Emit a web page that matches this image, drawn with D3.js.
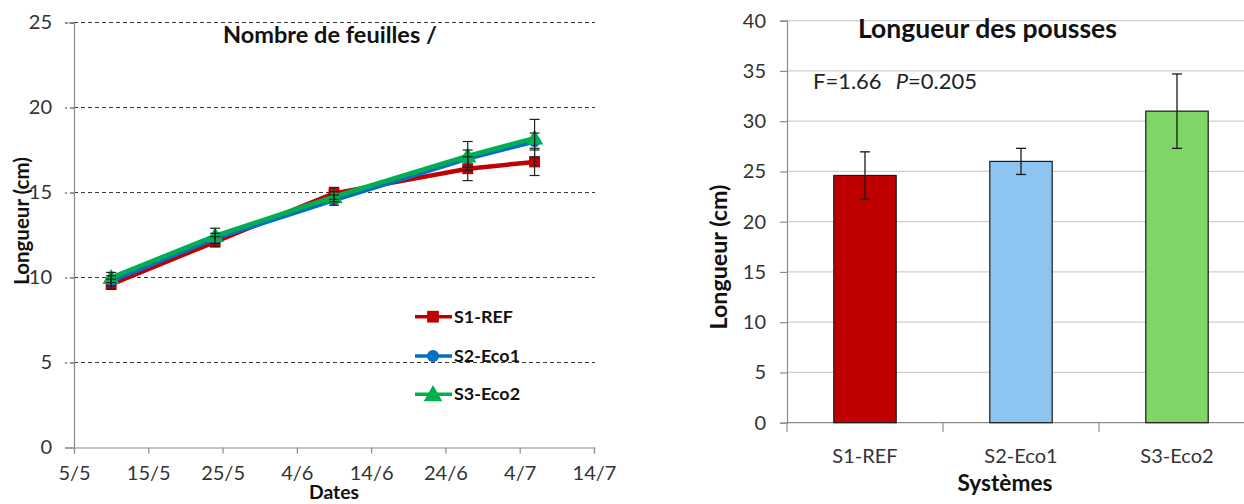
<!DOCTYPE html>
<html>
<head>
<meta charset="utf-8">
<script src="https://cdn.jsdelivr.net/npm/d3@7"></script>
<style>
  html, body { margin: 0; padding: 0; background: #fff; }
  svg { display: block; font-family: "Lato", "Open Sans", sans-serif; }
</style>
</head>
<body>
<svg id="chart" width="1244" height="504"></svg>
<script>
// ---- Left panel: leaf count / length over time ----
const sampleDates = ["2014-05-10", "2014-05-24", "2014-06-09", "2014-06-27", "2014-07-06"];
const dateTicks = ["2014-05-05", "2014-05-15", "2014-05-25", "2014-06-04", "2014-06-14", "2014-06-24", "2014-07-04", "2014-07-14"];
const lengthTicks = [0, 5, 10, 15, 20, 25];
const seriesNames = ["S1-REF", "S2-Eco1", "S3-Eco2"];
const s1Values = [9.6, 12.1, 14.95, 16.4, 16.8];
const s2Values = [9.8, 12.3, 14.55, 17.0, 18.0];
const s3Values = [10.0, 12.45, 14.75, 17.15, 18.2];
const s1Err = [0.3, 0.3, 0.35, 0.7, 0.8];
const s2Err = [0.3, 0.3, 0.3, 0.5, 0.5];
const s3Err = [0.3, 0.45, 0.3, 0.85, 1.1];
const seriesColors = ["#C00000", "#0070C0", "#00B050"];
const seriesMarkers = [d3.symbolSquare, d3.symbolCircle, d3.symbolTriangle];

// ---- Right panel: shoot length per system ----
const systems = ["S1-REF", "S2-Eco1", "S3-Eco2"];
const shootLength = [24.6, 26.0, 31.0];
const shootErr = [2.35, 1.3, 3.7];
const barColors = ["#C00000", "#8EC4F0", "#7FD666"];
const barTicks = [0, 5, 10, 15, 20, 25, 30, 35, 40];

const parse = d3.timeParse("%Y-%m-%d");
const fmtTick = d3.timeFormat("%-d/%-m");
const svg = d3.select("#chart");

// scale a text's font size so it spans the given width
function fitWidth(sel, width) {
  const node = sel.node();
  const base = parseFloat(sel.attr("font-size"));
  const len = node.getComputedTextLength();
  if (len > 0) sel.attr("font-size", (base * width / len).toFixed(2));
  return sel;
}

// ================= Left chart =================
const L = { x0: 74, x1: 594, y0: 447.5, y1: 22.5 };
const xT = d3.scaleTime().domain([parse(dateTicks[0]), parse(dateTicks[dateTicks.length - 1])]).range([L.x0, L.x1]);
const yL = d3.scaleLinear().domain([0, 25]).range([L.y0, L.y1]);

const gl = svg.append("g");

// dashed horizontal gridlines
gl.append("g").selectAll("line").data(lengthTicks.filter(d => d > 0)).join("line")
  .attr("x1", L.x0).attr("x2", L.x1 + 1)
  .attr("y1", d => yL(d)).attr("y2", d => yL(d))
  .attr("stroke", "#3a3a3a").attr("stroke-width", 1).attr("stroke-dasharray", "4,3");

// y axis
const yAxisL = gl.append("g").attr("transform", `translate(${L.x0},0)`)
  .call(d3.axisLeft(yL).tickValues(lengthTicks).tickSize(9).tickPadding(13));
// x axis
const xAxisL = gl.append("g").attr("transform", `translate(0,${L.y0})`)
  .call(d3.axisBottom(xT).tickValues(dateTicks.map(parse)).tickFormat(fmtTick).tickSize(6).tickPadding(12));
[yAxisL, xAxisL].forEach(a => {
  a.select(".domain").attr("stroke", "#8c8c8c").attr("stroke-width", 1.2);
  a.selectAll(".tick line").attr("stroke", "#8c8c8c").attr("stroke-width", 1.2);
  a.selectAll(".tick text").attr("fill", "#333").attr("font-size", 20).attr("font-family", "Lato");
});
yAxisL.selectAll(".tick line").filter(d => d > 0).attr("stroke", "#3a3a3a").attr("stroke-dasharray", "4,3");

// series
const seriesData = [s1Values, s2Values, s3Values].map((vals, i) => ({
  name: seriesNames[i],
  color: seriesColors[i],
  marker: seriesMarkers[i],
  points: vals.map((v, j) => ({ date: parse(sampleDates[j]), value: v, err: [s1Err, s2Err, s3Err][i][j] }))
}));

const line = d3.line().x(d => xT(d.date)).y(d => yL(d.value));
const markerSize = [120, 100, 130];

seriesData.forEach((s, i) => {
  const g = gl.append("g");
  g.append("path").datum(s.points).attr("d", line)
    .attr("fill", "none").attr("stroke", s.color).attr("stroke-width", 4.5).attr("stroke-linejoin", "round");
  g.selectAll("path.mk").data(s.points).join("path").attr("class", "mk")
    .attr("transform", d => `translate(${xT(d.date)},${yL(d.value) + (i === 2 ? 1.5 : 0)})`)
    .attr("d", d3.symbol().type(s.marker).size(markerSize[i]))
    .attr("fill", s.color);
});

// error bars
seriesData.forEach(s => {
  const g = gl.append("g").attr("stroke", "#222").attr("stroke-width", 1.2);
  s.points.forEach(d => {
    const x = xT(d.date), yt = yL(d.value + d.err), yb = yL(d.value - d.err);
    g.append("line").attr("x1", x).attr("x2", x).attr("y1", yt).attr("y2", yb);
    g.append("line").attr("x1", x - 5).attr("x2", x + 5).attr("y1", yt).attr("y2", yt);
    g.append("line").attr("x1", x - 5).attr("x2", x + 5).attr("y1", yb).attr("y2", yb);
  });
});

// title and axis labels
fitWidth(gl.append("text").attr("x", 223).attr("y", 43).attr("font-weight", "bold").attr("font-size", 20)
  .attr("fill", "#111").text("Nombre de feuilles /"), 214);
fitWidth(gl.append("text").attr("transform", `translate(29,221) rotate(-90)`).attr("text-anchor", "middle")
  .attr("font-weight", "bold").attr("font-size", 17).attr("fill", "#111").text("Longueur (cm)"), 128);
fitWidth(gl.append("text").attr("x", (L.x0 + L.x1) / 2).attr("y", 499).attr("text-anchor", "middle")
  .attr("font-weight", "bold").attr("font-size", 18).attr("fill", "#111").text("Dates"), 50);

// legend
const legY = [316.7, 356, 394.3];
const lg = gl.append("g");
seriesData.forEach((s, i) => {
  const y = legY[i];
  lg.append("line").attr("x1", 415).attr("x2", 452).attr("y1", y).attr("y2", y)
    .attr("stroke", s.color).attr("stroke-width", 3.5);
  lg.append("path").attr("transform", `translate(433,${y + (i === 2 ? 1.5 : 0)})`)
    .attr("d", d3.symbol().type(s.marker).size(markerSize[i] * 1.15)).attr("fill", s.color);
  const t = lg.append("text").attr("x", 454).attr("y", y + 6).attr("font-weight", "bold").attr("font-size", 16.5)
    .attr("fill", "#111").text(s.name);
  if (i === 0) fitWidth(t, 59);
  else t.attr("font-size", lg.select("text").attr("font-size"));
});

// ================= Right chart =================
const R = { x0: 787, x1: 1255, y0: 422.7, y1: 20.7 };
const xB = d3.scaleBand().domain(systems).range([R.x0, R.x1]).paddingInner(0.6).paddingOuter(0.3);
const yR = d3.scaleLinear().domain([0, 40]).range([R.y0, R.y1]);

const gr = svg.append("g");

// solid gridlines
gr.append("g").selectAll("line").data(barTicks.filter(d => d > 0)).join("line")
  .attr("x1", R.x0).attr("x2", R.x1)
  .attr("y1", d => yR(d)).attr("y2", d => yR(d))
  .attr("stroke", "#cfcfcf").attr("stroke-width", 1.3);

const yAxisR = gr.append("g").attr("transform", `translate(${R.x0},0)`)
  .call(d3.axisLeft(yR).tickValues(barTicks).tickSize(7).tickPadding(14));
yAxisR.select(".domain").attr("stroke", "#8c8c8c").attr("stroke-width", 1.2);
yAxisR.selectAll(".tick line").attr("stroke", "#8c8c8c").attr("stroke-width", 1.2);
yAxisR.selectAll(".tick text").attr("fill", "#333").attr("font-size", 20).attr("font-family", "Lato");

// x axis with ticks at category boundaries
const gap = (xB.step() - xB.bandwidth()) / 2;
const xAxisR = gr.append("g");
xAxisR.append("line").attr("x1", R.x0).attr("x2", R.x1).attr("y1", R.y0).attr("y2", R.y0)
  .attr("stroke", "#8c8c8c").attr("stroke-width", 1.2);
const boundaries = systems.map(d => xB(d) - gap).concat([xB(systems[systems.length - 1]) + xB.bandwidth() + gap]);
xAxisR.selectAll("line.tk").data(boundaries).join("line").attr("class", "tk")
  .attr("x1", d => d).attr("x2", d => d).attr("y1", R.y0).attr("y2", R.y0 + 9)
  .attr("stroke", "#8c8c8c").attr("stroke-width", 1.2);
xAxisR.selectAll("text").data(systems).join("text")
  .attr("x", d => xB(d) + xB.bandwidth() / 2).attr("y", 463).attr("text-anchor", "middle")
  .attr("font-size", 20).attr("fill", "#333").text(d => d);

// bars
gr.selectAll("rect.bar").data(systems).join("rect").attr("class", "bar")
  .attr("x", d => xB(d)).attr("width", xB.bandwidth())
  .attr("y", (d, i) => yR(shootLength[i])).attr("height", (d, i) => yR(0) - yR(shootLength[i]))
  .attr("fill", (d, i) => barColors[i]).attr("stroke", "#1a1a1a").attr("stroke-width", 1.2);

// bar error bars
const eb = gr.append("g").attr("stroke", "#1a1a1a").attr("stroke-width", 1.3);
systems.forEach((d, i) => {
  const x = xB(d) + xB.bandwidth() / 2;
  const yt = yR(shootLength[i] + shootErr[i]), yb = yR(shootLength[i] - shootErr[i]);
  eb.append("line").attr("x1", x).attr("x2", x).attr("y1", yt).attr("y2", yb);
  eb.append("line").attr("x1", x - 5).attr("x2", x + 5).attr("y1", yt).attr("y2", yt);
  eb.append("line").attr("x1", x - 5).attr("x2", x + 5).attr("y1", yb).attr("y2", yb);
});

// title, statistics and axis labels
fitWidth(gr.append("text").attr("x", 858).attr("y", 38).attr("font-weight", "bold").attr("font-size", 22)
  .attr("fill", "#111").text("Longueur des pousses"), 259);
const stat = gr.append("text").attr("x", 813).attr("y", 89).attr("font-size", 17).attr("fill", "#222");
stat.append("tspan").text("F=1.66");
stat.append("tspan").attr("dx", 14).attr("font-style", "italic").text("P");
stat.append("tspan").text("=0.205");
fitWidth(stat, 150);
fitWidth(gr.append("text").attr("transform", `translate(727,257) rotate(-90)`).attr("text-anchor", "middle")
  .attr("font-weight", "bold").attr("font-size", 19).attr("fill", "#111").text("Longueur (cm)"), 145);
fitWidth(gr.append("text").attr("x", 1005).attr("y", 491).attr("text-anchor", "middle")
  .attr("font-weight", "bold").attr("font-size", 18).attr("fill", "#111").text("Systèmes"), 95);
</script>
</body>
</html>
